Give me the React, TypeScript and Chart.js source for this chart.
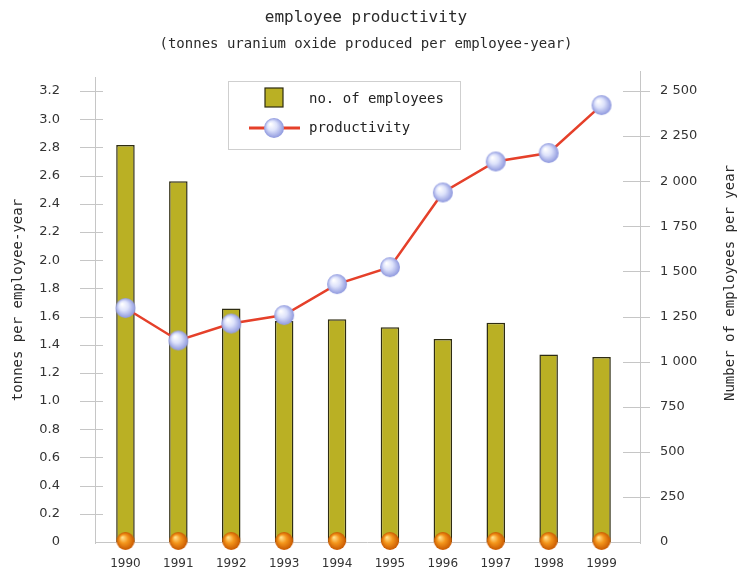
import React, { useEffect, useRef } from 'react';
import { Chart, registerables } from 'chart.js';

Chart.register(...registerables);

// ---- data ----
const years = ['1990', '1991', '1992', '1993', '1994', '1995', '1996', '1997', '1998', '1999'];
const employees = [2200, 2000, 1295, 1225, 1235, 1190, 1125, 1215, 1040, 1025];
const productivity = [1.66, 1.43, 1.55, 1.61, 1.83, 1.95, 2.48, 2.7, 2.76, 3.1];
const leftTickLabels = ['0', '0.2', '0.4', '0.6', '0.8', '1.0', '1.2', '1.4', '1.6', '1.8', '2.0', '2.2', '2.4', '2.6', '2.8', '3.0', '3.2'];
const rightTickLabels = ['0', '250', '500', '750', '1 000', '1 250', '1 500', '1 750', '2 000', '2 250', '2 500'];

const titleText = 'employee productivity';
const subtitleText = '(tonnes uranium oxide produced per employee-year)';
const leftAxisTitle = 'tonnes per employee-year';
const rightAxisTitle = 'Number of employees per year';
const barLabel = 'no. of employees';
const lineLabel = 'productivity';

const BAR_FILL = 'rgb(186,176,36)';
const BAR_EDGE = '#2e2c12';
const LINE_RED = '#e5402a';
const AXIS_GREY = '#c6c6c6';
const MONO = '"DejaVu Sans Mono", monospace';
const SANS = '"DejaVu Sans", sans-serif';

function makeSphere(r: number, light: string, mid: string, dark: string) {
  const c = document.createElement('canvas');
  const s = Math.ceil(r * 2 + 2);
  c.width = s;
  c.height = s;
  const g = c.getContext('2d')!;
  const cx = s / 2;
  const cy = s / 2;
  const grad = g.createRadialGradient(cx - r * 0.35, cy - r * 0.4, r * 0.05, cx, cy, r);
  grad.addColorStop(0, light);
  grad.addColorStop(0.45, mid);
  grad.addColorStop(1, dark);
  g.fillStyle = grad;
  g.beginPath();
  g.arc(cx, cy, r, 0, Math.PI * 2);
  g.fill();
  return c;
}

export default function App() {
  const ref = useRef<HTMLCanvasElement | null>(null);

  useEffect(() => {
    if (!ref.current) return;
    const blueSphere = makeSphere(10, '#ffffff', '#dde2fb', '#8e98de');
    const orangeSphere = makeSphere(9, '#ffe08a', '#f4961c', '#c85800');

    const decor = {
      id: 'decor',
      beforeDatasetsDraw(chart: any) {
        const { ctx, chartArea: a, scales } = chart;
        const lx = a.left - 4;
        const rx = a.right + 12;
        ctx.save();
        ctx.strokeStyle = AXIS_GREY;
        ctx.lineWidth = 1;
        const seg = (x1: number, y1: number, x2: number, y2: number) => {
          ctx.beginPath();
          ctx.moveTo(x1, y1);
          ctx.lineTo(x2, y2);
          ctx.stroke();
        };
        seg(lx + 0.5, a.top - 14, lx + 0.5, a.bottom + 2);
        seg(rx + 0.5, a.top - 20, rx + 0.5, a.bottom + 2);
        seg(lx, a.bottom + 0.5, rx, a.bottom + 0.5);
        scales.y.ticks.forEach((_t: any, i: number) => {
          const y = Math.round(scales.y.getPixelForTick(i)) + 0.5;
          if (i > 0) seg(lx - 15, y, lx + 8, y);
        });
        scales.y1.ticks.forEach((_t: any, i: number) => {
          const y = Math.round(scales.y1.getPixelForTick(i)) + 0.5;
          if (i > 0) seg(rx - 17, y, rx + 10, y);
        });
        ctx.restore();
      },
      afterDatasetsDraw(chart: any) {
        const { ctx } = chart;
        const meta = chart.getDatasetMeta(0);
        ctx.save();
        meta.data.forEach((bar: any) => {
          ctx.drawImage(orangeSphere, bar.x - orangeSphere.width / 2, bar.base - 1 - orangeSphere.height / 2);
        });
        ctx.restore();
      },
      afterDraw(chart: any) {
        const { ctx } = chart;
        ctx.save();
        ctx.fillStyle = '#2a2a2a';
        ctx.textAlign = 'center';
        ctx.textBaseline = 'middle';
        ctx.font = `16px ${MONO}`;
        ctx.fillText(titleText, 366, 18);
        ctx.font = `14px ${MONO}`;
        ctx.fillText(subtitleText, 366, 44);

        // axis titles
        ctx.save();
        ctx.translate(18, 300);
        ctx.rotate(-Math.PI / 2);
        ctx.fillText(leftAxisTitle, 0, 0);
        ctx.restore();
        ctx.save();
        ctx.translate(730, 283);
        ctx.rotate(-Math.PI / 2);
        ctx.fillText(rightAxisTitle, 0, 0);
        ctx.restore();

        // legend
        const bx = 228;
        const by = 81;
        ctx.fillStyle = '#ffffff';
        ctx.fillRect(bx, by, 232, 68);
        ctx.strokeStyle = '#cfcfcf';
        ctx.lineWidth = 1;
        ctx.strokeRect(bx + 0.5, by + 0.5, 232, 68);
        ctx.fillStyle = BAR_FILL;
        ctx.fillRect(265, 88, 18, 19);
        ctx.strokeStyle = BAR_EDGE;
        ctx.lineWidth = 1.2;
        ctx.strokeRect(265, 88, 18, 19);
        ctx.strokeStyle = LINE_RED;
        ctx.lineWidth = 3;
        ctx.beginPath();
        ctx.moveTo(249, 128);
        ctx.lineTo(300, 128);
        ctx.stroke();
        ctx.drawImage(blueSphere, 274 - blueSphere.width / 2, 128 - blueSphere.height / 2);
        ctx.fillStyle = '#222';
        ctx.textAlign = 'left';
        ctx.font = `14px ${MONO}`;
        ctx.fillText(barLabel, 309, 99);
        ctx.fillText(lineLabel, 309, 128);
        ctx.restore();
      },
    };

    const chart = new Chart(ref.current, {
      type: 'bar',
      data: {
        labels: years,
        datasets: [
          {
            type: 'bar',
            label: barLabel,
            data: employees,
            yAxisID: 'y1',
            backgroundColor: BAR_FILL,
            borderColor: BAR_EDGE,
            borderWidth: { top: 1.5, left: 1.5, right: 1.5, bottom: 0 },
            barPercentage: 0.35,
            categoryPercentage: 1,
            order: 3,
          },
          {
            type: 'line',
            label: lineLabel,
            data: productivity,
            yAxisID: 'y',
            borderColor: LINE_RED,
            borderWidth: 2.5,
            pointStyle: blueSphere as any,
            pointRadius: 10,
            tension: 0,
            order: 1,
          },
        ] as any,
      },
      options: {
        animation: false,
        responsive: false,
        layout: { padding: { top: 91, left: 0, right: 0, bottom: 0 }, autoPadding: false },
        plugins: {
          legend: { display: false },
          title: { display: false },
          tooltip: { enabled: false },
        },
        scales: {
          x: {
            grid: { display: false, drawTicks: false },
            border: { display: false },
            ticks: { font: { family: SANS, size: 12 }, color: '#333', padding: 15 },
            afterFit: (s: any) => {
              s.height = 29;
              s.paddingLeft = 0;
              s.paddingRight = 0;
            },
          },
          y: {
            position: 'left',
            min: 0,
            max: 3.2,
            grid: { display: false, drawTicks: false },
            border: { display: false },
            ticks: {
              stepSize: 0.2,
              padding: 39,
              font: { family: SANS, size: 13 },
              color: '#333',
              callback: (_v: any, i: number) => leftTickLabels[i],
            },
            afterFit: (s: any) => {
              s.width = 99;
              s.paddingTop = 0;
              s.paddingBottom = 0;
            },
          },
          y1: {
            position: 'right',
            min: 0,
            max: 2500,
            grid: { display: false, drawTicks: false },
            border: { display: false },
            ticks: {
              stepSize: 250,
              padding: 32,
              font: { family: SANS, size: 13 },
              color: '#333',
              callback: (_v: any, i: number) => rightTickLabels[i],
            },
            afterFit: (s: any) => {
              s.width = 110;
              s.paddingTop = 0;
              s.paddingBottom = 0;
            },
          },
        },
      } as any,
      plugins: [decor],
    });
    return () => chart.destroy();
  }, []);

  return (
    <div style={{ position: 'fixed', left: 0, top: 0, width: 738, height: 571, background: '#fff' }}>
      <canvas ref={ref} width={738} height={571} style={{ display: 'block' }} />
    </div>
  );
}
